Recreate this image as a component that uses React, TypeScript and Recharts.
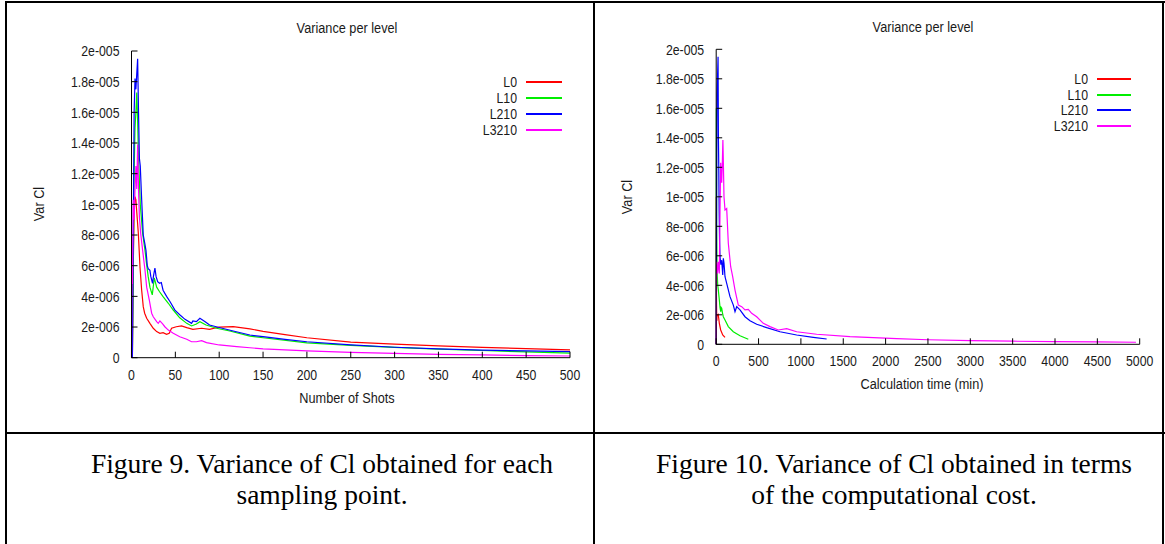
import React from "react";
import { LineChart, Line, XAxis, YAxis } from "recharts";

// gnuplot look: a narrow sans for the plots (Liberation Sans squeezed), Times for the captions
const PLOT_FONT = "'Liberation Sans', Arial, sans-serif";
const NARROW = 0.82;
const CAPTION_FONT = "'Liberation Serif', 'Times New Roman', serif";

const LEVELS = ["L0", "L10", "L210", "L3210"];
const COLORS = ["#ff0000", "#00ee00", "#0000ff", "#ff00ff"];

// variance of Cl, in units of 1e-6
const VAR_TICKS = [0, 2, 4, 6, 8, 10, 12, 14, 16, 18, 20];
const SHOT_TICKS = [0, 50, 100, 150, 200, 250, 300, 350, 400, 450, 500];
const TIME_TICKS = [0, 500, 1000, 1500, 2000, 2500, 3000, 3500, 4000, 4500, 5000];

// Figure 9: [number of shots, variance]
const shotsL0 = [
  [1, 0], [2, 6], [3, 9.5], [4, 10.5], [5, 10.3], [6, 9.5], [7.8, 8.1], [9.7, 5.9], [11.6, 4.4],
  [13.4, 3.33], [15, 2.9], [17.3, 2.57], [21, 2.24], [24.8, 1.92], [28.7, 1.7], [32.4, 1.59],
  [36, 1.63], [40, 1.52], [43, 1.59], [45.7, 1.92], [51, 2.02], [57, 2.07], [63, 1.96], [70, 1.85],
  [80, 1.92], [89, 1.85], [100, 2.0], [116, 2.02], [135, 1.88], [150, 1.72], [175, 1.5], [200, 1.3],
  [250, 1.02], [300, 0.88], [350, 0.77], [400, 0.67], [450, 0.59], [500, 0.51],
];
const shotsL10 = [
  [1, 0], [2, 6], [3, 12], [4, 15], [5, 16], [6, 17.3], [7, 15.4], [8, 13], [10, 10], [12.7, 8.1],
  [15.4, 7.0], [17, 6.2], [19, 5.3], [21, 4.6], [23.7, 4.1], [26, 5.2], [28.7, 4.6], [32, 4.3],
  [36, 3.98], [42, 3.55], [47.6, 3.11], [55, 2.6], [63, 2.24], [68.5, 2.07], [74, 2.2], [78, 2.35],
  [85, 2.13], [97, 1.92], [112, 1.74], [135, 1.41], [150, 1.3], [200, 0.97], [250, 0.8], [300, 0.67],
  [350, 0.56], [400, 0.47], [450, 0.38], [500, 0.3],
];
const shotsL210 = [
  [1, 0], [2, 8], [3, 16], [4, 18.2], [5, 17.5], [6, 18.5], [7, 19.5], [8, 16], [9, 13], [10, 12.5],
  [11.6, 10.3], [13.4, 8.0], [15, 7.5], [16.5, 7.0], [18, 6.0], [19, 5.8], [21, 5.7], [22, 5.3],
  [24, 4.85], [25, 5.3], [26.7, 5.85], [28, 5.3], [29.8, 4.96], [32, 4.85], [34, 4.9], [36, 4.4],
  [40, 4.0], [44, 3.65], [49.5, 3.1], [55, 2.8], [61, 2.5], [68.5, 2.24], [70, 2.4], [74, 2.35],
  [78, 2.57], [84, 2.35], [89, 2.13], [100, 1.97], [116, 1.74], [135, 1.48], [150, 1.37], [175, 1.2],
  [200, 1.04], [250, 0.83], [300, 0.68], [350, 0.58], [400, 0.5], [450, 0.44], [500, 0.39],
];
const shotsL3210 = [
  [0, 0], [0.5, 5.7], [1, 4.8], [2, 10.3], [3, 9], [4, 11], [5, 12.5], [6, 11], [7, 13.9], [8, 11],
  [9, 9.2], [10.5, 8.1], [12.7, 7.0], [15.4, 5.7], [17.3, 4.6], [20.3, 3.76], [23, 2.9], [24.8, 2.67],
  [28.7, 2.35], [30.5, 2.24], [32.4, 2.4], [35.5, 2.2], [38, 2.02], [42, 1.8], [47.6, 1.59],
  [55, 1.37], [63, 1.2], [68.5, 1.04], [74, 1.04], [80, 1.11], [85.5, 0.98], [100, 0.83], [120, 0.72],
  [135, 0.65], [150, 0.58], [200, 0.44], [250, 0.35], [300, 0.28], [350, 0.22], [400, 0.18],
  [450, 0.14], [500, 0.11],
];

// Figure 10: [calculation time in min, variance]
const timeL0 = [
  [0, 0], [0.4, 6], [0.8, 10], [1.5, 8], [2.5, 3.3], [5, 2.2], [8, 1.6], [10, 2.0], [20, 1.95],
  [25, 2.0], [30, 1.75], [37, 1.42], [53, 0.97], [77, 0.63], [104, 0.47],
];
const timeL10 = [
  [0, 0], [1, 10], [2, 16], [3, 14], [5, 8], [8, 6], [10, 5.2], [13, 4.6], [18, 4.0], [25, 3.68],
  [37, 3.0], [45, 2.5], [53, 2.21], [58, 2.5], [65, 2.44], [75, 2.1], [84, 1.87], [104, 1.65],
  [143, 1.2], [202, 0.85], [281, 0.58], [379, 0.34],
];
const timeL210 = [
  [0, 0], [5, 10], [10, 17], [15, 18], [22, 19.5], [26, 14], [30, 12.2], [35, 9], [40, 7], [45, 5.94],
  [55, 5.4], [65, 5.7], [77, 4.7], [84, 5.83], [92, 5.5], [104, 4.58], [124, 4.13], [163, 3.23],
  [202, 2.66], [222, 2.21], [242, 2.55], [281, 2.33], [340, 1.87], [399, 1.6], [478, 1.36],
  [596, 1.13], [753, 0.85], [950, 0.63], [1146, 0.47], [1304, 0.36],
];
const timeL3210 = [
  [0, 0], [5, 5.6], [15, 4.8], [25, 5.6], [37, 4.8], [45, 9], [53, 12.3], [60, 11], [65, 11.0],
  [72, 12.2], [79, 13.85], [84, 12.5], [92, 10], [104, 9.1], [124, 9.2], [143, 6.85], [171, 5.26],
  [194, 4.6], [222, 3.68], [261, 2.66], [301, 2.55], [340, 2.33], [379, 2.37], [419, 2.1],
  [478, 1.87], [556, 1.42], [635, 1.2], [733, 0.97], [832, 1.06], [950, 0.85], [1186, 0.68],
  [1580, 0.52], [2131, 0.38], [2500, 0.31], [3000, 0.25], [3500, 0.21], [4000, 0.18], [4500, 0.16],
  [4956, 0.14],
];

const toPoints = (pairs: number[][]) => pairs.map(([x, v]) => ({ x, v }));

// gnuplot prints the ticks like 1.2e-005
const fmtVar = (v: number) => {
  if (v === 0) return "0";
  if (v >= 10) return `${+(v / 10).toFixed(1)}e-005`;
  return `${v}e-006`;
};

// squeezed tick label, recharts hands us the anchor point
const NarrowTick = (props: any) => {
  const { x, y, payload, textAnchor, side } = props;
  const label = side === "left" ? fmtVar(payload.value) : String(payload.value);
  return (
    <g transform={`translate(${x},${y}) scale(${NARROW},1)`}>
      <text
        x={0}
        y={0}
        dy={side === "left" ? 5.4 : 11}
        textAnchor={textAnchor}
        fontSize={15}
        fontFamily={PLOT_FONT}
        fill="#1a1a1a"
      >
        {label}
      </text>
    </g>
  );
};
const noLabel = () => <g />;

type PanelProps = {
  left: number;
  width: number;
  height: number;
  margin: { top: number; right: number; bottom: number; left: number };
  series: number[][][];
  xTicks: number[];
  xMax: number;
};

const Panel = ({ left, width, height, margin, series, xTicks, xMax }: PanelProps) => (
  <div style={{ position: "absolute", left, top: 0 }}>
    <LineChart width={width} height={height} margin={margin}>
      <XAxis
        type="number"
        dataKey="x"
        domain={[0, xMax]}
        ticks={xTicks}
        interval={0}
        height={40}
        tickSize={-6}
        tickMargin={17}
        stroke="#000"
        tick={(p: any) => <NarrowTick {...p} side="bottom" />}
      />
      <XAxis
        xAxisId="mirror"
        orientation="top"
        type="number"
        domain={[0, xMax]}
        ticks={xTicks}
        interval={0}
        height={0}
        tickSize={-6}
        stroke="#000"
        tick={noLabel}
      />
      <YAxis
        type="number"
        domain={[0, 20]}
        ticks={VAR_TICKS}
        interval={0}
        width={60}
        tickSize={-6}
        tickMargin={18}
        stroke="#000"
        tick={(p: any) => <NarrowTick {...p} side="left" />}
      />
      <YAxis
        yAxisId="mirror"
        orientation="right"
        type="number"
        domain={[0, 20]}
        ticks={VAR_TICKS}
        interval={0}
        width={0}
        tickSize={-6}
        stroke="#000"
        tick={noLabel}
      />
      {series.map((pairs, i) => (
        <Line
          key={LEVELS[i]}
          data={toPoints(pairs)}
          dataKey="v"
          name={LEVELS[i]}
          type="linear"
          stroke={COLORS[i]}
          strokeWidth={1.2}
          dot={false}
          isAnimationActive={false}
        />
      ))}
    </LineChart>
  </div>
);

const Text = ({ x, y, children, rotate }: any) => (
  <div
    style={{
      position: "absolute",
      left: x,
      top: y,
      transform: `translate(-50%, -50%)${rotate ? " rotate(-90deg)" : ""} scaleX(${NARROW})`,
      fontFamily: PLOT_FONT,
      fontSize: 15.5,
      lineHeight: 1,
      color: "#1a1a1a",
      whiteSpace: "nowrap",
    }}
  >
    {children}
  </div>
);

const Key = ({ textRight, lineX1, lineX2, rows }: { textRight: number; lineX1: number; lineX2: number; rows: number[] }) => (
  <>
    {LEVELS.map((name, i) => (
      <React.Fragment key={name}>
        <div
          style={{
            position: "absolute",
            left: textRight - 80,
            width: 80,
            top: rows[i] - 7,
            height: 14,
            lineHeight: "14px",
            textAlign: "right",
            transform: `scaleX(${NARROW})`,
            transformOrigin: "right center",
            fontFamily: PLOT_FONT,
            fontSize: 15,
            color: "#1a1a1a",
          }}
        >
          {name}
        </div>
        <div
          style={{
            position: "absolute",
            left: lineX1,
            width: lineX2 - lineX1,
            top: Math.round(rows[i]) - 1,
            height: 1.5,
            background: COLORS[i],
          }}
        />
      </React.Fragment>
    ))}
  </>
);

const Caption = ({ cx, lines }: { cx: number; lines: string[] }) => (
  <div
    style={{
      position: "absolute",
      left: cx - 300,
      width: 600,
      top: 448,
      lineHeight: "31px",
      textAlign: "center",
      fontFamily: CAPTION_FONT,
      fontSize: 27.5,
      color: "#000",
      whiteSpace: "nowrap",
    }}
  >
    {lines[0]}
    <br />
    {lines[1]}
  </div>
);

const rule = (left: number, top: number, width: number, height: number) => (
  <div style={{ position: "absolute", left, top, width, height, background: "#000" }} />
);

export default function App() {
  return (
    <div style={{ position: "absolute", left: 0, top: 0, width: 1165, height: 544, background: "#fff", overflow: "hidden" }}>
      {/* table frame */}
      {rule(5, 1, 1160, 2)}
      {rule(5, 1, 2, 543)}
      {rule(593, 1, 2, 543)}
      {rule(1162, 1, 2, 543)}
      {rule(5, 432, 1160, 2)}

      {/* Figure 9 */}
      <Panel
        left={0}
        width={590}
        height={430}
        margin={{ top: 51, right: 20, bottom: 32.3, left: 71.5 }}
        series={[shotsL0, shotsL10, shotsL210, shotsL3210]}
        xTicks={SHOT_TICKS}
        xMax={500}
      />
      <Text x={347} y={28}>Variance per level</Text>
      <Text x={39} y={204} rotate>Var Cl</Text>
      <Text x={347} y={398}>Number of Shots</Text>
      <Key textRight={517} lineX1={526} lineX2={562} rows={[82.3, 97.9, 113.6, 129.5]} />

      {/* Figure 10 */}
      <Panel
        left={596}
        width={560}
        height={430}
        margin={{ top: 49.3, right: 16.3, bottom: 45.7, left: 60.2 }}
        series={[timeL0, timeL10, timeL210, timeL3210]}
        xTicks={TIME_TICKS}
        xMax={5000}
      />
      <Text x={923} y={27}>Variance per level</Text>
      <Text x={627} y={197} rotate>Var Cl</Text>
      <Text x={922} y={384}>Calculation time (min)</Text>
      <Key textRight={1088} lineX1={1097} lineX2={1131} rows={[78.7, 94.5, 110.2, 125.8]} />

      <Caption cx={322} lines={["Figure 9. Variance of Cl obtained for each", "sampling point."]} />
      <Caption cx={894} lines={["Figure 10. Variance of Cl obtained in terms", "of the computational cost."]} />
    </div>
  );
}
